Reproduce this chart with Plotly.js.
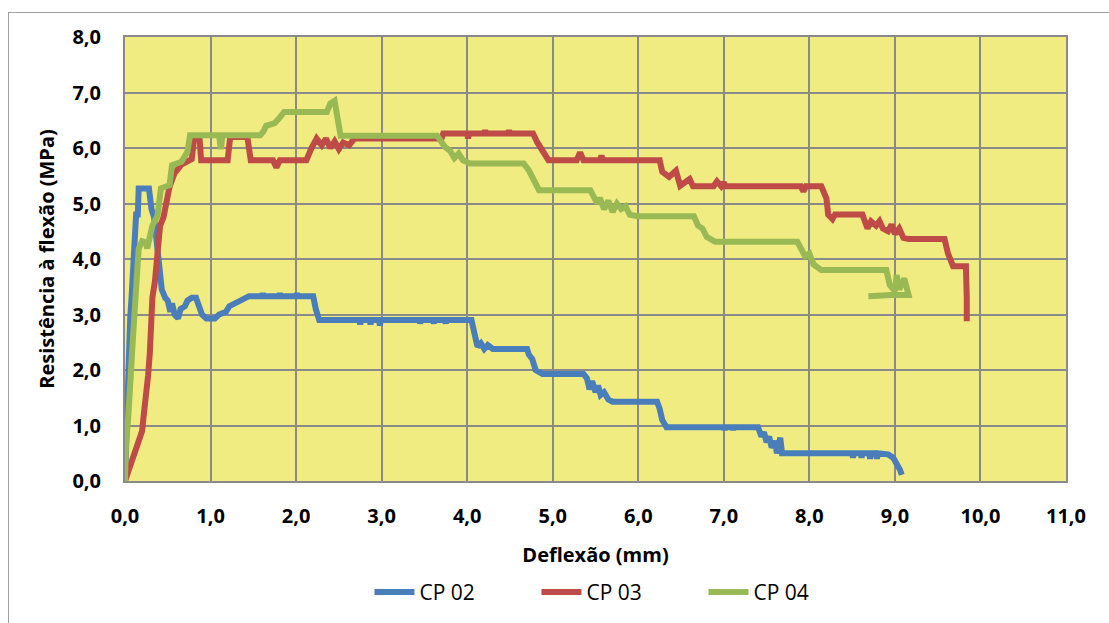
<!DOCTYPE html>
<html>
<head>
<meta charset="utf-8">
<script src="https://cdn.plot.ly/plotly-3.0.1.min.js"></script>
<style>
  html, body { margin: 0; padding: 0; background: #ffffff; }
  #chart { width: 1109px; height: 623px; position: relative; }
  #frame { position: absolute; left: 8px; top: 12px; width: 1200px; height: 700px;
           border-left: 1.5px solid #a0a0a0; border-top: 1.5px solid #a0a0a0; pointer-events: none; }
</style>
</head>
<body>
<div id="chart"></div>
<div id="frame"></div>
<script>
// ---- Data ----
const seriesNames = ["CP 02", "CP 03", "CP 04"];

const cp02_x = [0, 0.01, 0.03, 0.04, 0.06, 0.08, 0.10, 0.12, 0.13, 0.15, 0.16, 0.28, 0.31, 0.34, 0.37, 0.40, 0.43, 0.47, 0.50, 0.53, 0.55, 0.58, 0.62, 0.65, 0.70, 0.73, 0.78, 0.83, 0.87, 0.90, 0.95, 1.05, 1.10, 1.18, 1.22, 1.28, 1.35, 1.45, 1.60, 1.61, 1.62, 1.80, 1.81, 1.82, 2.00, 2.01, 2.02, 2.20, 2.23, 2.25, 2.27, 2.74, 2.75, 2.76, 2.86, 2.87, 2.88, 2.97, 2.98, 2.99, 3.44, 3.45, 3.46, 3.60, 3.61, 3.62, 3.74, 3.75, 3.76, 4.05, 4.08, 4.12, 4.16, 4.20, 4.24, 4.30, 4.70, 4.72, 4.76, 4.80, 4.88, 5.36, 5.40, 5.43, 5.46, 5.50, 5.53, 5.56, 5.60, 5.65, 5.70, 6.22, 6.25, 6.28, 6.33, 7.00, 7.01, 7.02, 7.10, 7.11, 7.12, 7.40, 7.44, 7.47, 7.50, 7.53, 7.56, 7.60, 7.62, 7.66, 7.68, 7.71, 8.50, 8.51, 8.52, 8.60, 8.61, 8.62, 8.70, 8.71, 8.72, 8.78, 8.79, 8.80, 8.92, 8.98, 9.03, 9.06, 9.08];
const cp02_y = [0, 0.60, 1.50, 2.40, 2.90, 3.40, 4.00, 4.50, 4.80, 4.80, 5.27, 5.27, 4.90, 4.75, 4.30, 4.00, 3.45, 3.30, 3.25, 3.05, 3.20, 3.00, 2.93, 3.10, 3.15, 3.25, 3.30, 3.30, 3.15, 3.00, 2.93, 2.93, 3.00, 3.05, 3.15, 3.20, 3.25, 3.33, 3.33, 3.38, 3.33, 3.33, 3.38, 3.33, 3.33, 3.38, 3.33, 3.33, 3.10, 2.95, 2.90, 2.90, 2.82, 2.90, 2.90, 2.82, 2.90, 2.90, 2.80, 2.90, 2.90, 2.84, 2.90, 2.90, 2.84, 2.90, 2.90, 2.84, 2.90, 2.90, 2.70, 2.42, 2.48, 2.38, 2.45, 2.38, 2.38, 2.28, 2.20, 2.00, 1.93, 1.93, 1.85, 1.65, 1.80, 1.60, 1.72, 1.55, 1.60, 1.47, 1.43, 1.43, 1.30, 1.10, 0.97, 0.97, 0.92, 0.97, 0.97, 0.92, 0.97, 0.97, 0.80, 0.88, 0.70, 0.80, 0.60, 0.72, 0.50, 0.78, 0.50, 0.50, 0.50, 0.42, 0.50, 0.50, 0.42, 0.50, 0.50, 0.40, 0.50, 0.50, 0.40, 0.50, 0.48, 0.42, 0.30, 0.20, 0.11];

const cp03_x = [0, 0.20, 0.22, 0.24, 0.27, 0.29, 0.30, 0.32, 0.35, 0.38, 0.41, 0.45, 0.48, 0.52, 0.58, 0.66, 0.78, 0.81, 0.87, 0.89, 1.20, 1.23, 1.43, 1.47, 1.73, 1.77, 1.81, 2.12, 2.18, 2.24, 2.30, 2.35, 2.40, 2.45, 2.50, 2.55, 2.62, 2.68, 3.70, 3.72, 4.00, 4.01, 4.02, 4.20, 4.21, 4.22, 4.48, 4.49, 4.50, 4.77, 4.82, 4.88, 4.95, 5.28, 5.32, 5.36, 5.55, 5.57, 5.59, 6.25, 6.28, 6.36, 6.44, 6.49, 6.60, 6.64, 6.68, 6.88, 6.92, 6.97, 7.00, 7.02, 7.90, 7.93, 7.96, 8.14, 8.20, 8.22, 8.27, 8.30, 8.62, 8.65, 8.68, 8.72, 8.78, 8.82, 8.86, 8.92, 8.96, 9.00, 9.05, 9.10, 9.16, 9.58, 9.62, 9.68, 9.83, 9.84, 9.84];
const cp03_y = [0, 0.90, 1.20, 1.45, 1.90, 2.30, 3.00, 3.30, 3.60, 4.20, 4.60, 4.75, 5.00, 5.30, 5.55, 5.70, 5.80, 6.20, 6.20, 5.78, 5.78, 6.20, 6.20, 5.78, 5.78, 5.65, 5.78, 5.78, 6.00, 6.17, 6.05, 6.17, 6.00, 6.12, 5.98, 6.10, 6.05, 6.17, 6.17, 6.26, 6.26, 6.17, 6.26, 6.26, 6.32, 6.26, 6.26, 6.32, 6.26, 6.26, 6.10, 5.95, 5.78, 5.78, 5.92, 5.78, 5.78, 5.86, 5.78, 5.78, 5.57, 5.48, 5.59, 5.32, 5.44, 5.31, 5.31, 5.31, 5.40, 5.31, 5.38, 5.31, 5.31, 5.22, 5.31, 5.31, 5.09, 4.80, 4.72, 4.80, 4.80, 4.70, 4.55, 4.68, 4.60, 4.68, 4.55, 4.50, 4.62, 4.45, 4.55, 4.38, 4.36, 4.36, 4.10, 3.87, 3.87, 3.30, 2.88];

const cp04_x = [0, 0.01, 0.04, 0.07, 0.09, 0.11, 0.13, 0.16, 0.20, 0.24, 0.26, 0.29, 0.32, 0.38, 0.42, 0.52, 0.55, 0.66, 0.73, 0.76, 1.10, 1.12, 1.14, 1.58, 1.62, 1.65, 1.75, 1.80, 1.86, 2.36, 2.40, 2.45, 2.48, 2.52, 3.65, 3.70, 3.74, 3.80, 3.85, 3.90, 3.95, 4.03, 4.66, 4.72, 4.78, 4.84, 5.44, 5.48, 5.52, 5.55, 5.60, 5.65, 5.70, 5.75, 5.80, 5.85, 5.90, 5.99, 6.65, 6.70, 6.75, 6.80, 6.90, 7.86, 7.90, 7.95, 8.00, 8.05, 8.14, 8.90, 8.94, 9.00, 9.02, 9.05, 9.11, 9.14, 9.16, 8.96, 8.69];
const cp04_y = [0, 0.60, 1.20, 1.80, 2.50, 3.00, 3.60, 4.19, 4.32, 4.30, 4.19, 4.40, 4.60, 4.78, 5.27, 5.33, 5.69, 5.75, 5.93, 6.23, 6.23, 5.98, 6.23, 6.23, 6.30, 6.40, 6.45, 6.53, 6.65, 6.65, 6.80, 6.85, 6.60, 6.22, 6.22, 6.10, 6.02, 5.95, 5.82, 5.90, 5.78, 5.72, 5.72, 5.60, 5.40, 5.24, 5.24, 5.10, 5.00, 5.10, 4.90, 5.05, 4.85, 5.00, 4.90, 4.95, 4.80, 4.77, 4.77, 4.60, 4.55, 4.40, 4.31, 4.31, 4.20, 4.05, 4.10, 3.90, 3.80, 3.80, 3.53, 3.42, 3.71, 3.45, 3.65, 3.40, 3.35, 3.35, 3.33];

const colors = ["#4A7EBB", "#BE4B48", "#98B954"];

const traces = [
  {x: cp02_x, y: cp02_y, name: seriesNames[0]},
  {x: cp03_x, y: cp03_y, name: seriesNames[1]},
  {x: cp04_x, y: cp04_y, name: seriesNames[2]}
].map((t, i) => Object.assign(t, {
  type: "scatter", mode: "lines",
  line: {color: colors[i], width: 6, shape: "linear"}
}));

const tickFont = {family: "Open Sans, sans-serif", size: 20, color: "#000000", weight: "bold"};

const layout = {
  width: 1109, height: 623,
  paper_bgcolor: "rgba(0,0,0,0)",
  plot_bgcolor: "#F0EC82",
  separators: ",.",
  margin: {l: 125, r: 43, t: 37, b: 141},
  showlegend: true,
  legend: {
    orientation: "h", x: 0.526, xanchor: "center", y: -0.248, yanchor: "middle",
    font: {family: "Open Sans, sans-serif", size: 21, color: "#000000"},
    entrywidth: 112, entrywidthmode: "pixels",
    itemwidth: 40, tracegroupgap: 0
  },
  xaxis: {
    range: [0, 11], dtick: 1, tick0: 0, tickformat: ".1f",
    showgrid: true, gridcolor: "#8A8A8A", gridwidth: 2,
    zeroline: false, showline: true, linecolor: "#8A8A8A", linewidth: 2, mirror: true,
    ticks: "", ticklabelstandoff: 16,
    tickfont: tickFont,
    title: {text: "Deflexão (mm)", font: {family: "Open Sans, sans-serif", size: 20, color: "#000000", weight: "bold"}, standoff: 20}
  },
  yaxis: {
    range: [0, 8], dtick: 1, tick0: 0, tickformat: ".1f",
    showgrid: true, gridcolor: "#8A8A8A", gridwidth: 2,
    zeroline: false, showline: true, linecolor: "#8A8A8A", linewidth: 2, mirror: true,
    ticks: "", ticklabelstandoff: 18,
    tickfont: tickFont,
    title: {text: "Resistência à flexão (MPa)", font: {family: "Open Sans, sans-serif", size: 20, color: "#000000", weight: "bold"}, standoff: 12}
  }
};

Plotly.newPlot("chart", traces, layout, {displayModeBar: false, staticPlot: true});
</script>
</body>
</html>
